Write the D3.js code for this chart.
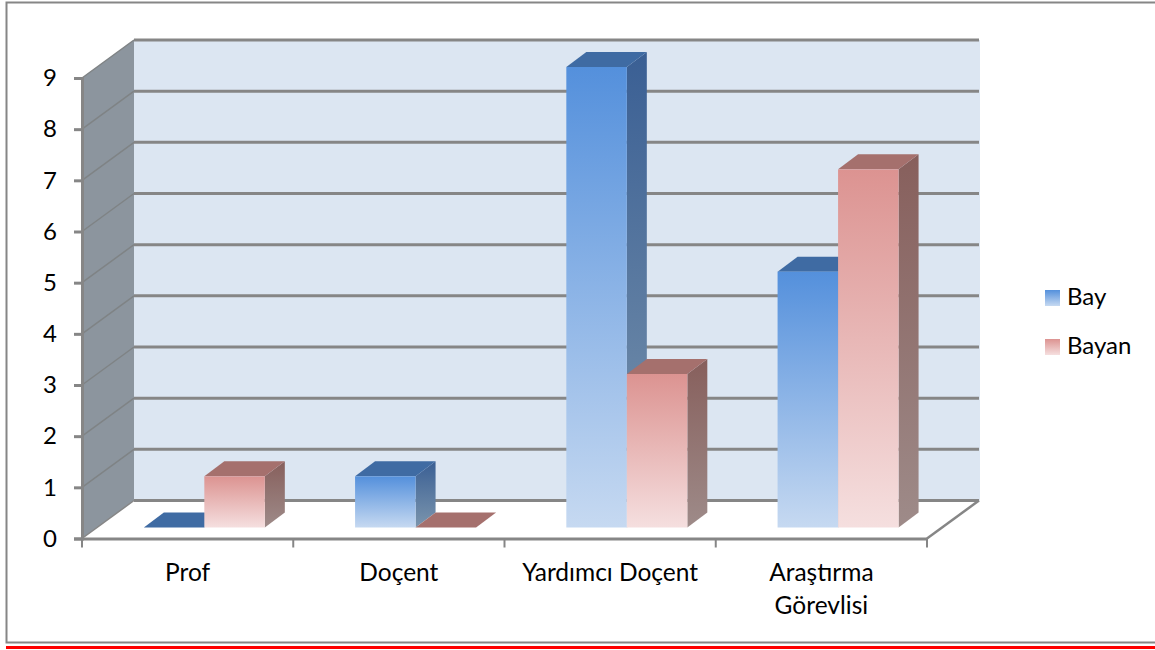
<!DOCTYPE html>
<html>
<head>
<meta charset="utf-8">
<script src="https://cdn.jsdelivr.net/npm/d3@7"></script>
<style>
html, body { margin: 0; padding: 0; background: #fff; overflow: hidden; }
text { font-family: Lato, sans-serif; fill: #000; }
</style>
</head>
<body>
<svg id="chart"></svg>
<script>
var categories = ['Prof', 'Doçent', 'Yardımcı Doçent', 'Araştırma Görevlisi'];
var bay = [0, 1, 9, 5];
var bayan = [1, 0, 3, 7];
var ticks = [0, 1, 2, 3, 4, 5, 6, 7, 8, 9];
var seriesNames = ['Bay', 'Bayan'];

var width = 1155, height = 650;
var plot = {left: 82, right: 927, bottom: 538.5, top: 78};
// depth of the floor, and of the bars standing on it
var depth = {dx: 52, dy: -38};
var bar = {x: 16.7, y: -11, dx: 20, dy: -15};

var svg = d3.select('#chart').attr('width', width).attr('height', height);

var colors = {
    Bay: {front: ['#5490dc', '#c6d9f1'], side: ['#3a5f94', '#7b95ad'], top: '#3f6ba3'},
    Bayan: {front: ['#dc9391', '#f5dfdf'], side: ['#875f5c', '#9e8b89'], top: '#a5706d'}
};

var defs = svg.append('defs');
seriesNames.forEach(function(name) {
    ['front', 'side'].forEach(function(part) {
        var grad = defs.append('linearGradient')
            .attr('id', name + '-' + part)
            .attr('x1', 0).attr('y1', 0).attr('x2', 0).attr('y2', 1);
        grad.append('stop').attr('offset', 0).attr('stop-color', colors[name][part][0]);
        grad.append('stop').attr('offset', 1).attr('stop-color', colors[name][part][1]);
    });
});

var xscale = d3.scaleBand().domain(categories).range([plot.left, plot.right]).paddingInner(0).paddingOuter(0);
var groupscale = d3.scaleBand().domain(seriesNames).range([0, 121]);
var yscale = d3.scaleLinear().domain([0, 9]).range([plot.bottom, plot.top]);

function pts(list) {
    return list.map(function(p) { return p.join(','); }).join(' ');
}

// frame and the red rule under it
svg.append('path')
    .attr('d', 'M1155,2.5H6.5V642.5H1155')
    .attr('fill', 'none').attr('stroke', '#868686').attr('stroke-width', 2);
svg.append('rect').attr('x', 6).attr('y', 646).attr('width', width - 6).attr('height', 3).attr('fill', '#ff0000');

// walls
svg.append('polygon')
    .attr('points', pts([
        [plot.left + depth.dx, yscale(9) + depth.dy], [plot.right + depth.dx + 1, yscale(9) + depth.dy],
        [plot.right + depth.dx + 1, yscale(0) + depth.dy], [plot.left + depth.dx, yscale(0) + depth.dy]]))
    .attr('fill', '#dce6f2');
svg.append('polygon')
    .attr('points', pts([
        [plot.left, yscale(9)], [plot.left + depth.dx, yscale(9) + depth.dy],
        [plot.left + depth.dx, yscale(0) + depth.dy], [plot.left, yscale(0)]]))
    .attr('fill', '#8c959e');

// gridlines: thin on the left wall, heavier across the back wall
svg.append('g').selectAll('line').data(ticks).enter()
    .append('line')
    .attr('x1', plot.left).attr('x2', plot.left + depth.dx)
    .attr('y1', function(d) { return yscale(d); })
    .attr('y2', function(d) { return yscale(d) + depth.dy; })
    .attr('stroke', function(d) { return d === 0 ? '#868686' : '#7f8385'; })
    .attr('stroke-width', 1.5);
svg.append('g').selectAll('line').data(ticks).enter()
    .append('line')
    .attr('x1', plot.left + depth.dx).attr('x2', plot.right + depth.dx)
    .attr('y1', function(d) { return yscale(d) + depth.dy; })
    .attr('y2', function(d) { return yscale(d) + depth.dy; })
    .attr('stroke', '#868686').attr('stroke-width', 3);

// floor edge on the right
svg.append('line')
    .attr('x1', plot.right).attr('y1', plot.bottom)
    .attr('x2', plot.right + depth.dx).attr('y2', plot.bottom + depth.dy)
    .attr('stroke', '#868686').attr('stroke-width', 2.5);

// axes
var yaxis = d3.axisLeft(yscale).tickValues(ticks).tickSize(8).tickPadding(17);
var yg = svg.append('g').attr('transform', 'translate(' + plot.left + ',0)').call(yaxis);
var xaxis = d3.axisBottom(xscale).tickSize(0).tickFormat('');
var xg = svg.append('g').attr('transform', 'translate(0,' + plot.bottom + ')').call(xaxis);
[yg, xg].forEach(function(g) {
    g.selectAll('path,line').attr('stroke', '#868686').attr('stroke-width', 3);
});
yg.selectAll('text').style('font-size', '24px').style('font-family', 'Lato, sans-serif').attr('fill', '#000');

// x ticks sit on the band edges
var edges = categories.map(function(c) { return xscale(c); }).concat([plot.right]);
svg.append('g').selectAll('line').data(edges).enter()
    .append('line')
    .attr('x1', function(d) { return d; }).attr('x2', function(d) { return d; })
    .attr('y1', plot.bottom).attr('y2', plot.bottom + 9)
    .attr('stroke', '#868686').attr('stroke-width', 2);

// bars
var rows = [];
categories.forEach(function(c, i) {
    rows.push({cat: c, name: 'Bay', value: bay[i]});
    rows.push({cat: c, name: 'Bayan', value: bayan[i]});
});

var bars = svg.append('g').selectAll('g').data(rows).enter().append('g');

function barBox(d) {
    var band = xscale.bandwidth();
    var x0 = xscale(d.cat) + (band - 121) / 2 + bar.x + groupscale(d.name);
    return {
        x0: x0,
        x1: x0 + groupscale.bandwidth(),
        y0: yscale(0) + bar.y,
        y1: yscale(d.value) + bar.y
    };
}

bars.filter(function(d) { return d.value > 0; }).append('polygon')
    .attr('points', function(d) {
        var b = barBox(d);
        return pts([[b.x1, b.y1], [b.x1 + bar.dx, b.y1 + bar.dy], [b.x1 + bar.dx, b.y0 + bar.dy], [b.x1, b.y0]]);
    })
    .attr('fill', function(d) { return 'url(#' + d.name + '-side)'; });

bars.append('polygon')
    .attr('points', function(d) {
        var b = barBox(d);
        return pts([[b.x0, b.y1], [b.x0 + bar.dx, b.y1 + bar.dy], [b.x1 + bar.dx, b.y1 + bar.dy], [b.x1, b.y1]]);
    })
    .attr('fill', function(d) { return colors[d.name].top; });

bars.filter(function(d) { return d.value > 0; }).append('rect')
    .attr('x', function(d) { return barBox(d).x0; })
    .attr('y', function(d) { return barBox(d).y1; })
    .attr('width', groupscale.bandwidth())
    .attr('height', function(d) { var b = barBox(d); return b.y0 - b.y1; })
    .attr('fill', function(d) { return 'url(#' + d.name + '-front)'; });

// category labels, the long one wraps onto two lines
var labels = svg.append('g').selectAll('text').data(categories).enter()
    .append('text')
    .attr('text-anchor', 'middle')
    .style('font-size', '24.5px');
labels.each(function(d) {
    var words = d === 'Araştırma Görevlisi' ? d.split(' ') : [d];
    var cx = xscale(d) + xscale.bandwidth() / 2;
    d3.select(this).selectAll('tspan').data(words).enter().append('tspan')
        .attr('x', cx)
        .attr('y', function(w, i) { return 581 + i * 33; })
        .text(function(w) { return w; });
});

// legend
var legend = svg.append('g').selectAll('g').data(seriesNames).enter()
    .append('g')
    .attr('transform', function(d, i) { return 'translate(1045,' + (290 + i * 49) + ')'; });
legend.append('rect')
    .attr('width', 15).attr('height', 16)
    .attr('fill', function(d) { return 'url(#' + d + '-front)'; });
legend.append('text')
    .attr('x', 22).attr('y', 15)
    .style('font-size', '24px')
    .text(function(d) { return d; });
</script>
</body>
</html>
